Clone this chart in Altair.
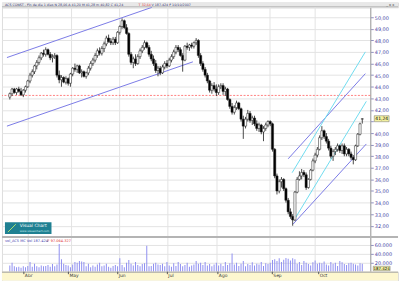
import altair as alt
import pandas as pd

# ---------------- data ----------------
opens = [43.1, 43.4, 43.8, 43.5, 43.8, 43.6, 43.3, 43.7, 44.0, 44.5,
         45.0, 45.3, 45.8, 46.1, 46.5, 46.9, 46.8, 47.2, 46.8, 46.5,
         46.6, 46.7, 45.0, 44.6, 44.8, 44.4, 44.7, 44.3, 45.1, 45.6,
         45.5, 45.8, 45.2, 45.3, 44.9, 45.2, 45.6, 46.0, 46.3, 46.7,
         47.1, 46.9, 47.3, 47.7, 48.2, 47.9, 47.8, 48.1, 47.8, 48.7,
         49.2, 49.7, 49.1, 48.6, 46.8, 46.1, 46.4, 46.0, 46.6, 47.1,
         47.4, 47.8, 47.4, 46.8, 46.4, 46.0, 45.4, 45.6, 45.2, 45.7,
         46.0, 45.8, 46.3, 46.6, 47.0, 47.4, 47.2, 46.7, 46.3, 47.5,
         47.4, 47.6, 47.5, 47.8, 48.0, 46.7, 46.0, 45.5, 45.0, 44.5,
         43.7, 44.1, 43.8, 43.5, 44.0, 44.1, 43.6, 43.8, 42.9, 42.3,
         41.8, 42.2, 42.6, 42.1, 41.2, 40.6, 41.2, 41.7, 41.1, 41.3,
         40.8, 40.4, 40.7, 40.1, 40.4, 40.7, 41.0, 40.8, 38.6, 36.3,
         35.0, 35.8, 36.0, 35.2, 34.2, 33.2, 32.8, 32.5, 34.9, 36.0,
         36.3, 36.6, 36.4, 35.3, 36.0, 36.8, 37.6, 38.1, 38.6, 39.6,
         40.2, 39.7, 39.3, 38.7, 38.0, 38.4, 38.6, 38.9, 38.5, 38.9,
         38.2, 38.6, 38.2, 37.9, 37.7, 38.9, 39.9, 41.20]
highs = [43.5, 43.9, 43.9, 43.9, 44.0, 43.9, 43.8, 44.1, 44.6, 45.2,
         45.5, 45.9, 46.3, 46.7, 47.0, 47.2, 47.4, 47.3, 47.0, 46.8,
         46.9, 46.8, 45.4, 45.0, 44.9, 44.9, 44.8, 45.2, 45.7, 46.0,
         45.9, 45.9, 45.5, 45.4, 45.3, 45.8, 46.2, 46.5, 46.9, 47.3,
         47.4, 47.5, 47.9, 48.4, 48.5, 48.2, 48.3, 48.3, 48.8, 49.3,
         49.9, 49.8, 49.4, 48.7, 47.0, 46.6, 46.8, 46.8, 47.3, 47.6,
         48.0, 47.9, 47.6, 47.1, 46.7, 46.3, 45.8, 45.8, 45.9, 46.2,
         46.3, 46.5, 46.8, 47.2, 47.6, 47.6, 47.4, 46.9, 47.6, 47.8,
         47.7, 47.8, 47.9, 48.2, 48.1, 46.9, 46.2, 45.7, 45.2, 44.6,
         44.3, 44.4, 44.2, 44.2, 44.3, 44.3, 44.0, 43.9, 43.0, 42.6,
         42.4, 42.8, 42.7, 42.2, 41.5, 41.4, 42.0, 41.9, 41.5, 41.5,
         41.1, 40.9, 40.8, 40.6, 40.9, 41.1, 41.1, 40.9, 38.7, 36.5,
         36.0, 36.2, 36.1, 35.3, 34.4, 33.5, 33.0, 35.0, 36.2, 36.7,
         36.9, 36.8, 36.6, 36.1, 36.9, 37.8, 38.3, 38.8, 39.8, 40.6,
         40.3, 40.0, 39.5, 38.9, 38.6, 38.8, 39.1, 39.0, 39.1, 39.1,
         38.8, 38.7, 38.4, 38.1, 39.0, 40.0, 40.9, 41.28]
lows = [42.9, 43.2, 43.4, 43.3, 43.5, 43.2, 43.1, 43.5, 43.9, 44.3,
        44.8, 45.1, 45.5, 45.9, 46.3, 46.6, 46.6, 46.7, 46.3, 46.1,
        46.4, 44.8, 44.3, 44.0, 44.3, 44.2, 44.1, 44.0, 44.9, 45.3,
        45.2, 45.1, 44.8, 44.8, 44.7, 45.0, 45.4, 45.8, 46.1, 46.5,
        46.7, 46.7, 47.0, 47.5, 47.8, 47.6, 47.6, 47.6, 47.7, 48.5,
        49.0, 49.0, 48.5, 46.6, 45.9, 45.6, 45.8, 45.9, 46.4, 46.9,
        47.2, 47.3, 46.6, 46.2, 45.8, 45.2, 44.9, 45.0, 45.1, 45.5,
        45.6, 45.7, 46.1, 46.4, 46.8, 47.0, 46.6, 45.3, 46.2, 47.2,
        47.1, 47.3, 47.3, 47.6, 46.5, 45.8, 45.3, 44.8, 44.3, 43.5,
        43.4, 43.6, 43.2, 43.3, 43.8, 43.3, 43.2, 42.8, 42.1, 41.6,
        41.6, 42.0, 42.0, 41.0, 39.5, 40.4, 41.0, 40.9, 40.7, 40.6,
        40.2, 40.1, 39.9, 39.3, 40.2, 40.5, 40.6, 38.4, 36.1, 34.7,
        34.8, 35.3, 35.0, 34.0, 33.0, 32.6, 32.0, 32.4, 34.8, 35.9,
        36.0, 36.2, 35.1, 35.2, 35.9, 36.7, 37.4, 37.9, 38.5, 39.4,
        39.5, 39.1, 38.5, 37.8, 37.6, 38.1, 38.4, 38.3, 38.2, 38.0,
        38.0, 38.0, 37.7, 37.3, 37.6, 38.8, 39.8, 40.82]
closes = [43.4, 43.8, 43.5, 43.8, 43.6, 43.3, 43.7, 44.0, 44.5, 45.0,
          45.3, 45.8, 46.1, 46.5, 46.9, 46.8, 47.2, 46.8, 46.5, 46.6,
          46.7, 45.0, 44.6, 44.8, 44.4, 44.7, 44.3, 45.1, 45.6, 45.5,
          45.8, 45.2, 45.3, 44.9, 45.2, 45.6, 46.0, 46.3, 46.7, 47.1,
          46.9, 47.3, 47.7, 48.2, 47.9, 47.8, 48.1, 47.8, 48.7, 49.2,
          49.7, 49.1, 48.6, 46.8, 46.1, 46.4, 46.0, 46.6, 47.1, 47.4,
          47.8, 47.4, 46.8, 46.4, 46.0, 45.4, 45.6, 45.2, 45.7, 46.0,
          45.8, 46.3, 46.6, 47.0, 47.4, 47.2, 46.7, 46.3, 47.5, 47.4,
          47.6, 47.5, 47.8, 48.0, 46.7, 46.0, 45.5, 45.0, 44.5, 43.7,
          44.1, 43.8, 43.5, 44.0, 44.1, 43.6, 43.8, 42.9, 42.3, 41.8,
          42.2, 42.6, 42.1, 41.2, 40.6, 41.2, 41.7, 41.1, 41.3, 40.8,
          40.4, 40.7, 40.1, 40.4, 40.7, 41.0, 40.8, 38.6, 36.3, 35.0,
          35.8, 36.0, 35.2, 34.2, 33.2, 32.8, 32.5, 34.9, 36.0, 36.3,
          36.6, 36.4, 35.3, 36.0, 36.8, 37.6, 38.1, 38.6, 39.6, 40.2,
          39.7, 39.3, 38.7, 38.0, 38.4, 38.6, 38.9, 38.5, 38.9, 38.2,
          38.6, 38.2, 37.9, 37.7, 38.9, 39.9, 40.8, 41.24]
volumes_k = [14, 20, 12, 10, 11, 9, 12, 10, 13, 22,
             11, 18, 12, 10, 14, 12, 13, 15, 11, 17,
             12, 16, 62, 28, 18, 15, 14, 10, 16, 22,
             20, 24, 23, 22, 12, 18, 10, 14, 11, 16,
             20, 12, 14, 18, 11, 9, 13, 15, 12, 30,
             15, 10, 20, 26, 18, 14, 22, 15, 12, 17,
             19, 58, 12, 13, 18, 20, 16, 15, 18, 12,
             22, 14, 11, 19, 13, 22, 17, 12, 15, 20,
             11, 14, 16, 24, 18, 20, 15, 22, 14, 17,
             12, 16, 20, 14, 18, 13, 22, 15, 19, 41,
             16, 20, 13, 18, 24, 12, 17, 15, 21, 14,
             18, 16, 22, 13, 19, 17, 20, 26, 28, 24,
             30, 22, 27, 31, 29, 25, 30, 28, 18, 22,
             15, 24, 20, 17, 14, 21, 25, 18, 20, 19,
             23, 16, 14, 22, 18, 20, 13, 24, 21, 17,
             15, 19, 20, 18, 16, 14, 19, 18]

month_names = ["Abr", "May", "Jun", "Jul", "Ago", "Sep", "Oct"]
month_pos = [8.2, 27.5, 48.9, 70.4, 92.3, 115.9, 136.0]
price_ticks = list(range(32, 51))
vol_ticks = [20, 40, 60]
red_level = [43.25]

# trend lines (index, price) endpoints
line_x1 = [-1.29, -1.29, 124.0, 126.18, 125.75, 126.6]
line_y1 = [46.52, 40.60, 37.78, 32.14, 36.58, 32.48]
line_x2 = [63.3, 81.55, 158.37, 158.8, 158.37, 158.8]
line_y2 = [50.855, 46.15, 45.13, 39.06, 47.01, 42.74]
line_kind = ["blue", "blue", "blue", "blue", "cyan", "cyan"]

header_text = "ACS CONST - Fin de dia 1 dias  N 28,06  A 41,20  M 41,28  m 40,82  C 41,24"
header_red = "T 32,64"
header_tail = "V 187.424  F 10/10/2007"
vol_text = "vol_ACS MC Vol 187.424"
vol_red = "F 97.064.327"
last_vol_label = "187.424"

# ---------------- layout ----------------
PX0, DX = 3.0, 2.33
def xdom(w):
    return [(0 - PX0) / DX, (w - PX0) / DX]

W = 372
MAIN_H = 231
VOL_H = 36
FONT = "DejaVu Sans"
LABEL_COLOR = "#3c3ca0"
GRID = "#e3e3e3"

df = pd.DataFrame(dict(i=list(range(len(closes))), o=opens, h=highs, l=lows,
                       c=closes, v=volumes_k))
df["dir"] = ["up" if c >= o else "down" for o, c in zip(opens, closes)]
months = pd.DataFrame(dict(name=month_names, pos=month_pos))
lines = pd.DataFrame(dict(x1=line_x1, y1=line_y1, x2=line_x2, y2=line_y2, kind=line_kind))
dummy = pd.DataFrame({"a": [0]})
last = pd.DataFrame({"p": [closes[-1]],
                     "lbl": [("%.2f" % closes[-1]).replace(".", ",")]})
last["p_lo"] = last["p"] - 0.26
last["p_hi"] = last["p"] + 0.26

xs_main = alt.Scale(domain=xdom(W), nice=False, zero=False)
ys_price = alt.Scale(domain=[31.11, 50.855], nice=False, zero=False)

price_axis = alt.Axis(orient="right", values=price_ticks, grid=True, gridColor=GRID,
                      labelExpr="datum.value == 41 ? '' : replace(format(datum.value, '.2f'), '.', ',')",
                      labelFont=FONT, labelFontSize=5, labelColor=LABEL_COLOR,
                      tickSize=3, tickColor="#9090c0", domainColor="#a0a0a0",
                      labelPadding=1, minExtent=28, maxExtent=28, title=None,
                      zindex=0, labelFlush=False, labelOverlap=False)

def XM(f):
    return alt.X(f, type="quantitative", scale=xs_main, axis=None)

def YP(f):
    return alt.Y(f, type="quantitative", scale=ys_price, axis=price_axis)

vgrid = alt.Chart(months).mark_rule(color=GRID, strokeWidth=1).encode(x=XM("pos"))
red = alt.Chart(pd.DataFrame({"p": red_level})).mark_rule(
    color="#ff6a6a", strokeDash=[2, 1.5], strokeWidth=1, opacity=0.85).encode(y=YP("p"))
trend = alt.Chart(lines).mark_rule(clip=True, strokeWidth=1).encode(
    x=XM("x1"), x2="x2", y=YP("y1"), y2="y2",
    color=alt.Color("kind:N", scale=alt.Scale(domain=["blue", "cyan"],
                                              range=["#7a7ae6", "#6fdcef"]), legend=None))
wick = alt.Chart(df).mark_rule(color="#1a1a1a", strokeWidth=0.8).encode(
    x=XM("i"), y=YP("l"), y2="h")
body = alt.Chart(df).mark_bar(size=2.2, stroke="#1a1a1a", strokeWidth=0.5).encode(
    x=XM("i"), y=YP("o"), y2="c",
    fill=alt.Fill("dir:N", scale=alt.Scale(domain=["up", "down"],
                                           range=["#ffffff", "#000000"]), legend=None))
logo_rect = alt.Chart(dummy).mark_rect(color="#1f8092").encode(
    x=alt.value(3), x2=alt.value(50), y=alt.value(217), y2=alt.value(229))
logo_swoosh = alt.Chart(dummy).mark_rule(color="#a8e070", strokeWidth=1).encode(
    x=alt.value(6), x2=alt.value(14), y=alt.value(227), y2=alt.value(219))
logo_t1 = alt.Chart(dummy).mark_text(text="Visual Chart", color="white", fontSize=4.5,
                                     font=FONT, align="left", baseline="middle").encode(
    x=alt.value(18), y=alt.value(221))
logo_t2 = alt.Chart(dummy).mark_text(text="www.visualchart.com", color="#d0f0f0", fontSize=2.8,
                                     font=FONT, align="left", baseline="middle").encode(
    x=alt.value(18), y=alt.value(226))
hl_rect = alt.Chart(last).mark_rect(fill="#f3f0a0", stroke="#707070", strokeWidth=0.5).encode(
    x=alt.value(376), x2=alt.value(391), y=YP("p_lo"), y2="p_hi")
hl_text = alt.Chart(last).mark_text(fontSize=4.5, font=FONT, color="#000000",
                                    align="center", baseline="middle").encode(
    x=alt.value(383.5), y=YP("p"), text="lbl:N")

main = alt.layer(vgrid, red, trend, wick, body, logo_rect, logo_swoosh, logo_t1, logo_t2,
                 hl_rect, hl_text).properties(width=W, height=MAIN_H)

# volume panel
ys_vol = alt.Scale(domain=[0, 80], nice=False, zero=True)
vol_axis = alt.Axis(orient="right", values=vol_ticks, grid=True, gridColor=GRID,
                    labelExpr="datum.value + '.000'", labelFont=FONT, labelFontSize=5,
                    labelColor=LABEL_COLOR, tickSize=3, tickColor="#9090c0",
                    domainColor="#a0a0a0", labelPadding=1, minExtent=28, maxExtent=28,
                    title=None, zindex=0, labelFlush=False, labelOverlap=False)
vgrid_v = alt.Chart(months).mark_rule(color=GRID, strokeWidth=1).encode(x=XM("pos"))
vbars = alt.Chart(df).mark_bar(size=1, color="#8f8ff0").encode(
    x=XM("i"), y=alt.Y("v:Q", scale=ys_vol, axis=vol_axis))
sep = alt.Chart(dummy).mark_rule(color="#b4b4b4", strokeWidth=2).encode(
    x=alt.value(0), x2=alt.value(400), y=alt.value(1))
vt1 = alt.Chart(dummy).mark_text(text=vol_text, color="#4040b0", fontSize=3.6, font=FONT,
                                 align="left", baseline="middle").encode(
    x=alt.value(3), y=alt.value(5))
vt2 = alt.Chart(dummy).mark_text(text=vol_red, color="#e03030", fontSize=3.6, font=FONT,
                                 align="left", baseline="middle").encode(
    x=alt.value(46), y=alt.value(5))
vhl_rect = alt.Chart(dummy).mark_rect(fill="#f3f0a0", stroke="#707070", strokeWidth=0.5).encode(
    x=alt.value(375), x2=alt.value(392), y=alt.value(30.5), y2=alt.value(35))
vhl_text = alt.Chart(dummy).mark_text(text=last_vol_label, fontSize=4, font=FONT,
                                      color="#000000", align="center",
                                      baseline="middle").encode(
    x=alt.value(383.5), y=alt.value(32.8))
vol = alt.layer(vgrid_v, vbars, sep, vt1, vt2, vhl_rect, vhl_text).properties(
    width=W, height=VOL_H)

# date strip
xs_date = alt.Scale(domain=xdom(400), nice=False, zero=False)
band = alt.Chart(dummy).mark_rect(color="#fdf7cf").encode(
    x=alt.value(0), x2=alt.value(400), y=alt.value(0), y2=alt.value(9))
band_line = alt.Chart(dummy).mark_rule(color="#a0a0a0", strokeWidth=1).encode(
    x=alt.value(0), x2=alt.value(400), y=alt.value(0.5))
dticks = alt.Chart(months).mark_rule(color="#555555", strokeWidth=1).encode(
    x=alt.X("pos:Q", scale=xs_date, axis=None), y=alt.value(0), y2=alt.value(2.5))
dlabels = alt.Chart(months).mark_text(align="left", dx=1, baseline="middle", fontSize=4.5,
                                      font=FONT, color="#333333").encode(
    x=alt.X("pos:Q", scale=xs_date, axis=None), y=alt.value(4.8), text="name:N")
date = alt.layer(band, band_line, dticks, dlabels).properties(width=400, height=9)

# header strip
hband = alt.Chart(dummy).mark_rect(color="#e8e8e8").encode(
    x=alt.value(0), x2=alt.value(400), y=alt.value(0), y2=alt.value(5))
hline = alt.Chart(dummy).mark_rule(color="#b0b0b0", strokeWidth=1).encode(
    x=alt.value(0), x2=alt.value(400), y=alt.value(4.5))
ht1 = alt.Chart(dummy).mark_text(text=header_text, color="#303070", fontSize=3.3, font=FONT,
                                 align="left", baseline="middle").encode(
    x=alt.value(3), y=alt.value(2.3))
ht2 = alt.Chart(dummy).mark_text(text=header_red, color="#e03030", fontSize=3.3, font=FONT,
                                 align="left", baseline="middle").encode(
    x=alt.value(138), y=alt.value(2.3))
ht3 = alt.Chart(dummy).mark_text(text=header_tail, color="#303070", fontSize=3.3, font=FONT,
                                 align="left", baseline="middle").encode(
    x=alt.value(151), y=alt.value(2.3))
hicons = alt.Chart(dummy).mark_text(text="_ o x", color="#404040", fontSize=3.5, font=FONT,
                                    align="left", baseline="middle").encode(
    x=alt.value(388), y=alt.value(2.3))
header = alt.layer(hband, hline, ht1, ht2, ht3, hicons).properties(width=400, height=5)

chart = alt.vconcat(header, main, vol, date, spacing=0, padding=0,
                    bounds="flush").resolve_scale(
    x="independent", y="independent").configure_view(strokeWidth=0).configure(
    background="white")

chart.save("out.html", embed_options={"renderer": "svg", "actions": False})
